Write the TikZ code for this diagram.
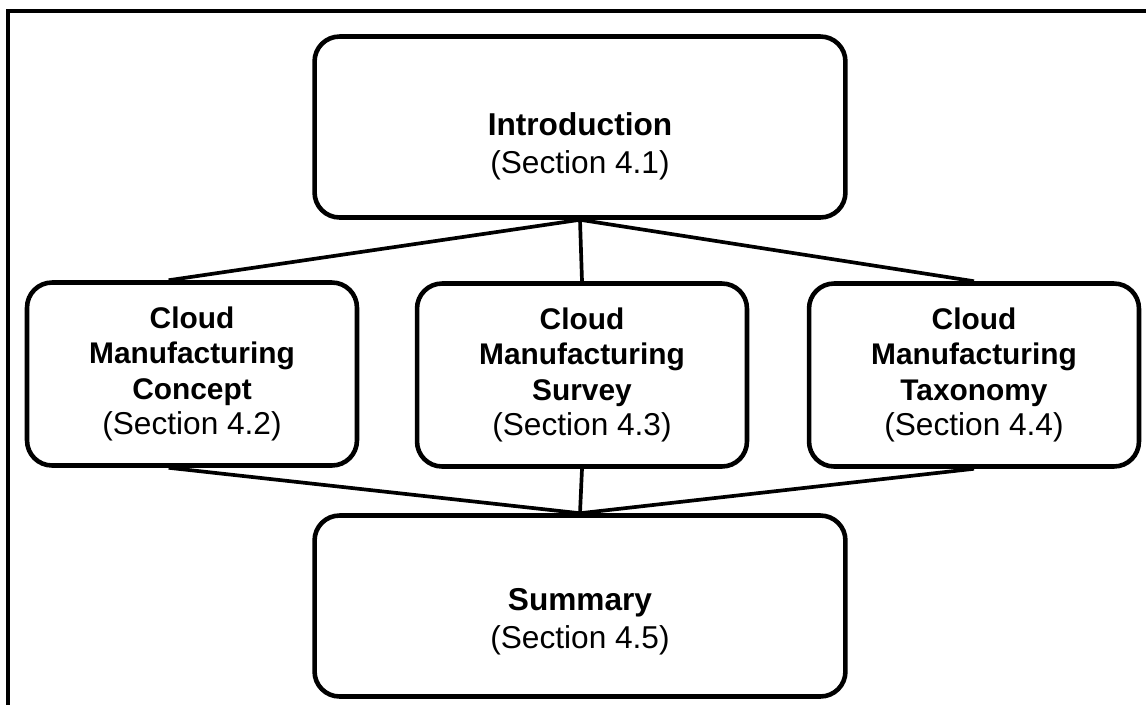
\documentclass[tikz,border=0pt]{standalone}
\usepackage{fontspec}
\setmainfont{Liberation Sans}
\newcommand{\sectionno}[1]{{\fontsize{18}{21.6}\selectfont(Section #1)}}
\begin{document}
\begin{tikzpicture}[x=0.02cm,y=-0.02cm]
\tikzstyle{every node}+=[inner sep=0pt]
\tikzstyle{words}=[align=center, font=\fontsize{18}{21.6}\selectfont]
\tikzstyle{part}=[draw, line width=2.6pt, rounded corners=0.5cm]
\tikzstyle{bigpart}=[part, minimum width=10.62cm, minimum height=3.62cm]
\tikzstyle{subpart}=[part, align=center, font=\fontsize{17}{20}\selectfont, minimum width=6.6cm, minimum height=3.66cm]
\tikzstyle{link}=[line width=2.1pt]
\useasboundingbox (0,0) rectangle (1146,704);
\clip (0,0) rectangle (1146,704);
\draw [line width=2.3pt] (8,720) -- (8,11) -- (1160,11);
\node [bigpart, label={[words, yshift=-0.38cm]center:{\textbf{Introduction}\\(Section 4.1)}}] (intro) at (580,127) {};
\node [subpart] (concept) at (192,374) {\textbf{Cloud}\\\textbf{Manufacturing}\\\textbf{Concept}\\\sectionno{4.2}};
\node [subpart] (survey) at (582,375) {\textbf{Cloud}\\\textbf{Manufacturing}\\\textbf{Survey}\\\sectionno{4.3}};
\node [subpart] (taxonomy) at (974,375) {\textbf{Cloud}\\\textbf{Manufacturing}\\\textbf{Taxonomy}\\\sectionno{4.4}};
\node [bigpart, label={[words, yshift=-0.32cm]center:{\textbf{Summary}\\(Section 4.5)}}] (summary) at (580,606) {};
\draw [link] (intro.south) -- (concept.104);
\draw [link] (intro.south) -- (survey.north);
\draw [link] (intro.south) -- (taxonomy.north);
\draw [link] (concept.256) -- (summary.north);
\draw [link] (survey.south) -- (summary.north);
\draw [link] (taxonomy.south) -- (summary.north);
\end{tikzpicture}
\end{document}
